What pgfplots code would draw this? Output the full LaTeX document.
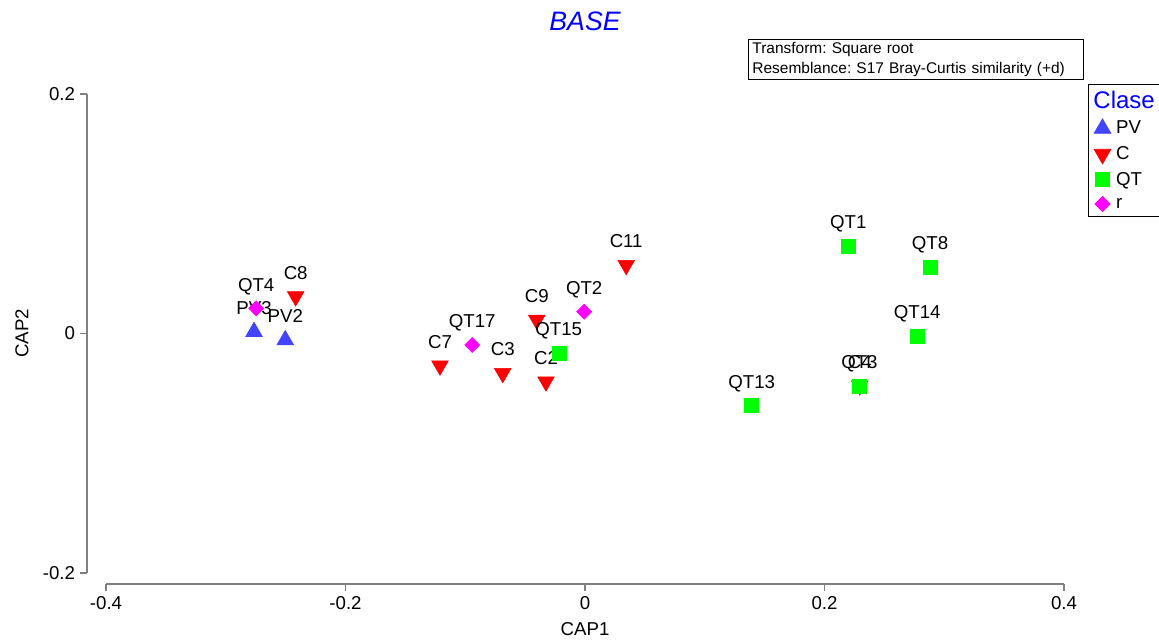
\documentclass[border=0pt]{standalone}
\usepackage{fontspec}
\setmainfont{Liberation Sans}
\usepackage{pgfplots}
\pgfplotsset{compat=1.18}
\usepackage{pgfplotstable}
\frenchspacing

\definecolor{pvc}{RGB}{68,68,255}
\definecolor{cc}{RGB}{255,0,0}
\definecolor{qtc}{RGB}{0,255,0}
\definecolor{rc}{RGB}{255,0,255}

\pgfplotstableread{
x y label
-0.2764 0.0015 PV3
-0.2503 -0.0054 PV2
}\PVdata

\pgfplotstableread{
x y label
-0.2416 0.0309 C8
-0.1211 -0.0269 C7
-0.0687 -0.0332 C3
-0.0403 0.0113 C9
-0.0326 -0.0402 C2
0.0344 0.0570 C11
0.2294 -0.0435 C4
}\Cdata

\pgfplotstableread{
x y label
0.2199 0.0729 QT1
0.2881 0.0554 QT8
0.2774 -0.0023 QT14
0.2292 -0.0440 QT3
0.1392 -0.0601 QT13
-0.0219 -0.0163 QT15
}\QTdata

\pgfplotstableread{
x y label
-0.2746 0.0210 QT4
-0.0942 -0.0096 QT17
-0.0007 0.0182 QT2
}\Rdata

\begin{document}
\begin{tikzpicture}
\path[use as bounding box] (0,0) rectangle (869.25pt,479.25pt);
\begin{axis}[
  at={(79.5pt,49.5pt)}, anchor=south west,
  scale only axis, width=718.5pt, height=359.25pt,
  xmin=-0.4, xmax=0.4, ymin=-0.2, ymax=0.2,
  clip=false,
  axis x line*=bottom, axis y line*=left,
  x axis line style={yshift=-8.25pt, draw=gray, line width=0.9pt, -},
  y axis line style={xshift=-14.25pt, draw=gray, line width=0.9pt, -},
  xtick={-0.4,-0.2,0,0.2,0.4},
  ytick={-0.2,0,0.2},
  tick align=outside,
  major tick length=5.5pt,
  xtick style={yshift=-8.25pt, draw=gray, line width=0.9pt},
  ytick style={xshift=-14.25pt, draw=gray, line width=0.9pt},
  xticklabel style={yshift=-8.25pt},
  yticklabel style={xshift=-14.25pt},
  tick label style={font=\fontsize{14}{17}\selectfont},
  /pgf/number format/assume math mode=true,
  /pgf/number format/fixed,
  xlabel={CAP1}, ylabel={CAP2},
  label style={font=\fontsize{14}{17}\selectfont},
  xlabel style={at={(axis description cs:0.5,-0.1315)}, anchor=base},
  ylabel style={at={(axis description cs:-0.0877,0.5)}, anchor=center},
  nodes near coords,
  point meta=explicit symbolic,
  nodes near coords style={anchor=base, yshift=13pt, inner sep=0pt, text=black, font=\fontsize{14}{17}\selectfont},
  legend style={at={(1.0251,1.0209)}, anchor=north west, draw=black, line width=0.6pt,
    font=\fontsize{14}{17}\selectfont, row sep=4pt, column sep=2pt, inner xsep=2pt, inner ysep=3pt},
  legend cell align=left,
]
\addlegendimage{empty legend}
\addlegendentry{\hspace{-17pt}\textcolor{blue}{\fontsize{18}{20}\selectfont Clase}\hspace{20pt}}
\addplot[only marks, mark=triangle*, mark size=7.2pt, color=pvc] table[meta=label]{\PVdata};
\addlegendentry{PV}
\addplot[only marks, mark=triangle*, mark size=7.2pt, mark options={rotate=180}, color=cc] table[meta=label]{\Cdata};
\addlegendentry{C}
\addplot[only marks, mark=square*, mark size=5.25pt, color=qtc] table[meta=label]{\QTdata};
\addlegendentry{QT}
\addplot[only marks, mark=square*, mark size=4pt, mark options={rotate=45}, color=rc] table[meta=label]{\Rdata};
\addlegendentry{r}

\node[font=\fontsize{20}{24}\selectfont\itshape, text=blue, anchor=base] at (rel axis cs:0.5,1.1336) {BASE};
\node[draw=black, line width=0.75pt, anchor=north west, inner xsep=3pt, inner ysep=1.5pt,
  text width=245pt, minimum height=30pt, align=left,
  font=\fontsize{11.6}{14.5}\selectfont] at (rel axis cs:0.6701,1.1148)
  {Transform: Square root\\Resemblance: S17 Bray-Curtis similarity (+d)};
\end{axis}
\end{tikzpicture}
\end{document}
